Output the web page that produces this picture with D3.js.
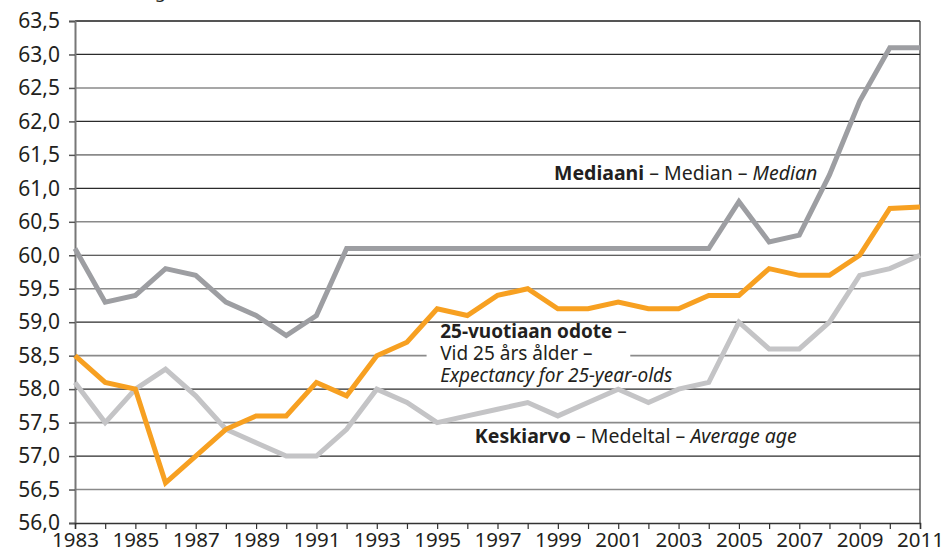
<!DOCTYPE html>
<html lang="fi">
<head>
  <meta charset="UTF-8">
  <script src="https://cdn.jsdelivr.net/npm/d3@7"></script>
  <title>Eläkkeellesiirtymisikä</title>
  <style>
    body { margin: 0; background: #fff; }
    text { font-family: "Noto Sans", sans-serif; fill: #231f20; }
  </style>
</head>
<body>
  <svg width="944" height="556"></svg>
  <script>
    // vuodet ja sarjat
    var years = d3.range(1983, 2012);
    var median = [60.1, 59.3, 59.4, 59.8, 59.7, 59.3, 59.1, 58.8, 59.1, 60.1,
      60.1, 60.1, 60.1, 60.1, 60.1, 60.1, 60.1, 60.1, 60.1, 60.1,
      60.1, 60.1, 60.8, 60.2, 60.3, 61.2, 62.3, 63.1, 63.1];
    var expect25 = [58.5, 58.1, 58.0, 56.6, 57.0, 57.4, 57.6, 57.6, 58.1, 57.9,
      58.5, 58.7, 59.2, 59.1, 59.4, 59.5, 59.2, 59.2, 59.3, 59.2,
      59.2, 59.4, 59.4, 59.8, 59.7, 59.7, 60.0, 60.7, 60.72];
    var average = [58.1, 57.5, 58.0, 58.3, 57.9, 57.4, 57.2, 57.0, 57.0, 57.4,
      58.0, 57.8, 57.5, 57.6, 57.7, 57.8, 57.6, 57.8, 58.0, 57.8,
      58.0, 58.1, 59.0, 58.6, 58.6, 59.0, 59.7, 59.8, 60.0];
    var yTicks = d3.range(56, 63.51, 0.5);
    var xLabels = d3.range(1983, 2012, 2);

    var margin = { top: 21, right: 24, bottom: 33, left: 75 };
    var svg = d3.select("svg");
    var width = +svg.attr("width") - margin.left - margin.right;
    var height = +svg.attr("height") - margin.top - margin.bottom;
    var g = svg.append("g")
      .attr("transform", "translate(" + margin.left + "," + margin.top + ")");

    var x = d3.scaleLinear().domain([1983, 2011]).range([0, width]);
    var y = d3.scaleLinear().domain([56, 63.5]).range([height, 0]);
    var fmt = function (d) { return d3.format(".1f")(d).replace(".", ","); };

    // akselin otsikko, leikkautuu yläreunasta
    svg.append("text")
      .attr("x", 176).attr("y", -2)
      .attr("text-anchor", "end")
      .style("font-size", "18px")
      .text("Ikä – Ålder – Age");

    // vaakaviivat: kokonaisluvut tummia, puolikkaat harmaita
    g.selectAll(".grid")
      .data(yTicks.filter(d => d > 56 && d < 63.5))
      .enter().append("line")
      .attr("x1", 0).attr("x2", width)
      .attr("y1", d => y(d)).attr("y2", d => y(d))
      .attr("stroke", d => d % 1 === 0 ? "#2b2b2b" : "#8a8a8a")
      .attr("stroke-width", d => d % 1 === 0 ? 1.2 : 1.6);

    // yläreuna ja oikea reuna
    g.append("line").attr("x1", 0).attr("x2", width).attr("y1", y(63.5)).attr("y2", y(63.5))
      .attr("stroke", "#555").attr("stroke-width", 2);
    g.append("line").attr("x1", width).attr("x2", width).attr("y1", 0).attr("y2", height)
      .attr("stroke", "#333").attr("stroke-width", 1.2);

    // y-akseli
    var yAxis = g.append("g")
      .call(d3.axisLeft(y).tickValues(yTicks).tickFormat(fmt).tickSize(6).tickPadding(9));
    yAxis.select(".domain").attr("stroke", "#777").attr("stroke-width", 2);
    yAxis.selectAll(".tick line").attr("stroke", "#555").attr("stroke-width", 1.5);
    yAxis.selectAll("text").style("font-size", "21px").style("font-family", "Noto Sans")
      .attr("fill", "#231f20");

    // x-akseli
    var xAxis = g.append("g")
      .attr("transform", "translate(0," + height + ")")
      .call(d3.axisBottom(x).tickValues(years).tickSize(6).tickPadding(3)
        .tickFormat(d => xLabels.indexOf(d) >= 0 ? d : ""));
    xAxis.select(".domain").attr("stroke", "#333").attr("stroke-width", 1.5);
    xAxis.selectAll(".tick line").attr("stroke", "#333").attr("stroke-width", 1.2);
    xAxis.selectAll("text").style("font-size", "20.5px").style("font-family", "Noto Sans")
      .attr("fill", "#231f20");

    // valkoinen tausta 25-vuotiaan tekstille
    g.append("rect")
      .attr("x", x(1994.65)).attr("y", y(58.97))
      .attr("width", x(2001.4) - x(1994.65))
      .attr("height", y(58.05) - y(58.97))
      .attr("fill", "#fff");

    var line = d3.line()
      .x((d, i) => x(years[i]))
      .y(d => y(d));

    var series = [
      { values: average, color: "#c4c4c6" },
      { values: expect25, color: "#f7a021" },
      { values: median, color: "#9d9ea2" }
    ];
    g.selectAll(".series")
      .data(series)
      .enter().append("path")
      .attr("d", d => line(d.values))
      .attr("fill", "none")
      .attr("stroke", d => d.color)
      .attr("stroke-width", 5)
      .attr("stroke-linejoin", "miter");

    // selitteet
    function label(px, py, parts, anchor, size) {
      var t = g.append("text")
        .attr("x", px).attr("y", py)
        .attr("text-anchor", anchor || "start")
        .style("font-size", (size || 19.5) + "px");
      parts.forEach(function (p) {
        t.append("tspan")
          .style("font-weight", p.b ? "bold" : "normal")
          .style("font-style", p.i ? "italic" : "normal")
          .text(p.t);
      });
    }
    label(x(2007.7) - 3, y(61.15) + 2, [
      { t: "Mediaani", b: 1 }, { t: " – Median – " }, { t: "Median", i: 1 }], "end");
    label(x(1995.1), y(58.77), [{ t: "25-vuotiaan odote", b: 1 }, { t: " –" }], "start", 19);
    label(x(1995.1), y(58.43), [{ t: "Vid 25 års ålder –" }], "start", 19);
    label(x(1995.1), y(58.1), [{ t: "Expectancy for 25-year-olds", i: 1 }], "start", 19);
    label(x(1996.25), y(57.19), [
      { t: "Keskiarvo", b: 1 }, { t: " – Medeltal – " }, { t: "Average age", i: 1 }]);
  </script>
</body>
</html>
